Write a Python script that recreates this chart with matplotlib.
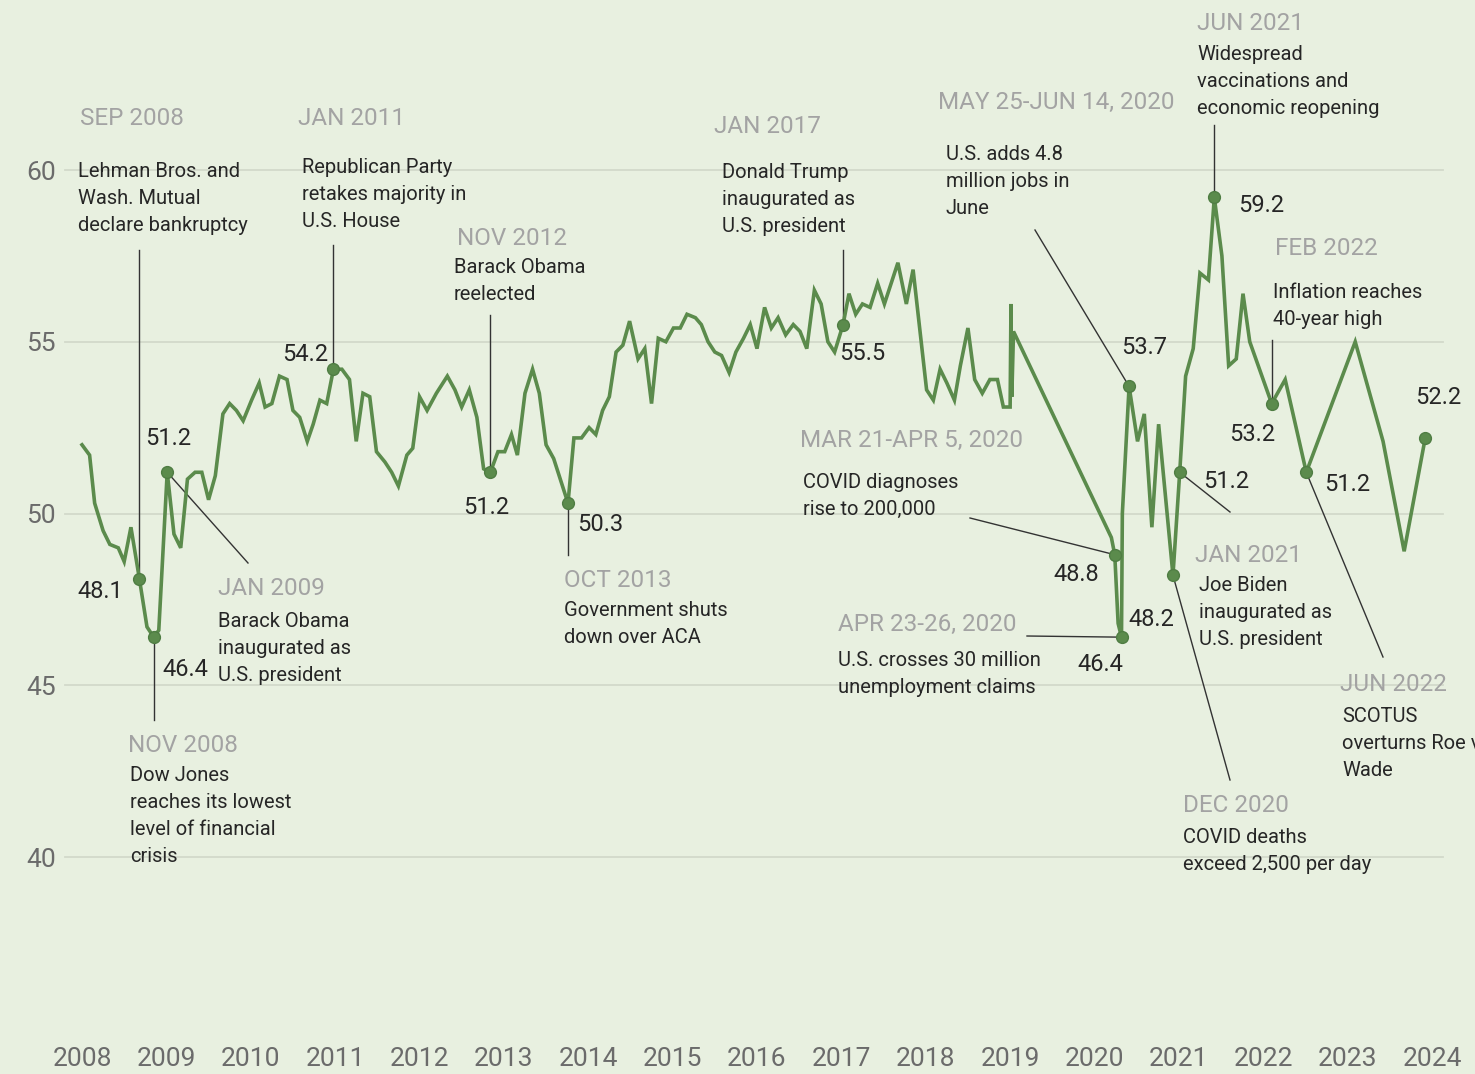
import matplotlib
matplotlib.use("Agg")
import matplotlib.pyplot as plt

W, H = 1475, 1074

# index values (decimal year, value)
DATES = [
    2008.00, 2008.09, 2008.15, 2008.25, 2008.33, 2008.43, 2008.50, 2008.58, 2008.68, 2008.77,
    2008.85, 2008.91, 2009.01, 2009.09, 2009.17, 2009.25, 2009.34, 2009.42, 2009.50, 2009.58,
    2009.67, 2009.75, 2009.83, 2009.91, 2010.01, 2010.10, 2010.17, 2010.25, 2010.34, 2010.43,
    2010.50, 2010.58, 2010.67, 2010.74, 2010.82, 2010.90, 2010.98, 2011.08, 2011.17, 2011.25,
    2011.33, 2011.41, 2011.49, 2011.59, 2011.67, 2011.75, 2011.85, 2011.92, 2012.00, 2012.09,
    2012.20, 2012.33, 2012.42, 2012.50, 2012.59, 2012.68, 2012.76, 2012.84, 2012.93, 2013.01,
    2013.09, 2013.16, 2013.25, 2013.34, 2013.42, 2013.50, 2013.59, 2013.76, 2013.83, 2013.92,
    2014.01, 2014.09, 2014.17, 2014.25, 2014.33, 2014.41, 2014.49, 2014.59, 2014.67, 2014.75,
    2014.83, 2014.92, 2015.01, 2015.09, 2015.17, 2015.27, 2015.34, 2015.42, 2015.50, 2015.58,
    2015.67, 2015.75, 2015.84, 2015.92, 2016.00, 2016.09, 2016.17, 2016.25, 2016.34, 2016.43,
    2016.51, 2016.59, 2016.68, 2016.76, 2016.84, 2016.92, 2017.02, 2017.09, 2017.17, 2017.25,
    2017.34, 2017.43, 2017.51, 2017.67, 2017.77, 2017.85, 2018.01, 2018.09, 2018.17, 2018.25,
    2018.34, 2018.41, 2018.50, 2018.58, 2018.67, 2018.76, 2018.85, 2018.92, 2019.00, 2019.01,
    2019.02, 2019.04, 2020.20, 2020.24, 2020.28, 2020.32, 2020.33, 2020.41, 2020.51, 2020.59,
    2020.68, 2020.76, 2020.93, 2021.01, 2021.08, 2021.17, 2021.25, 2021.35, 2021.42, 2021.51,
    2021.59, 2021.68, 2021.76, 2021.84, 2022.10, 2022.26, 2022.51, 2023.09, 2023.42, 2023.67,
    2023.92,
]
VALUES = [
    52.0, 51.7, 50.3, 49.5, 49.1, 49.0, 48.6, 49.6, 48.1, 46.7,
    46.4, 46.6, 51.2, 49.4, 49.0, 51.0, 51.2, 51.2, 50.4, 51.1,
    52.9, 53.2, 53.0, 52.7, 53.3, 53.8, 53.1, 53.2, 54.0, 53.9,
    53.0, 52.8, 52.1, 52.6, 53.3, 53.2, 54.2, 54.2, 53.9, 52.1,
    53.5, 53.4, 51.8, 51.5, 51.2, 50.8, 51.7, 51.9, 53.4, 53.0,
    53.5, 54.0, 53.6, 53.1, 53.6, 52.8, 51.3, 51.2, 51.8, 51.8,
    52.3, 51.7, 53.5, 54.2, 53.5, 52.0, 51.6, 50.3, 52.2, 52.2,
    52.5, 52.3, 53.0, 53.4, 54.7, 54.9, 55.6, 54.5, 54.8, 53.2,
    55.1, 55.0, 55.4, 55.4, 55.8, 55.7, 55.5, 55.0, 54.7, 54.6,
    54.1, 54.7, 55.1, 55.5, 54.8, 56.0, 55.4, 55.7, 55.2, 55.5,
    55.3, 54.8, 56.5, 56.1, 55.0, 54.7, 55.5, 56.4, 55.8, 56.1,
    56.0, 56.7, 56.1, 57.3, 56.1, 57.1, 53.6, 53.3, 54.2, 53.8,
    53.3, 54.3, 55.4, 53.9, 53.5, 53.9, 53.9, 53.1, 53.1, 56.1,
    53.4, 55.3, 49.3, 48.8, 46.8, 46.4, 50.0, 53.7, 52.1, 52.9,
    49.6, 52.6, 48.2, 51.2, 54.0, 54.8, 57.0, 56.8, 59.2, 57.5,
    54.3, 54.5, 56.4, 55.0, 53.2, 53.9, 51.2, 55.0, 52.1, 48.9,
    52.2,
]

MARKED = [2008.68, 2008.85, 2009.01, 2010.98, 2012.84, 2013.76, 2017.02, 2020.24,
          2020.32, 2020.41, 2020.93, 2021.01, 2021.42, 2022.10, 2022.51, 2023.92]

YEARS = list(range(2008, 2025))
YTICKS = [40, 45, 50, 55, 60]

# events: title, body lines, anchor date
EVENTS = [
    ("SEP 2008", ["Lehman Bros. and", "Wash. Mutual", "declare bankruptcy"], 2008.68),
    ("NOV 2008", ["Dow Jones", "reaches its lowest", "level of financial", "crisis"], 2008.85),
    ("JAN 2009", ["Barack Obama", "inaugurated as", "U.S. president"], 2009.01),
    ("JAN 2011", ["Republican Party", "retakes majority in", "U.S. House"], 2010.98),
    ("NOV 2012", ["Barack Obama", "reelected"], 2012.84),
    ("OCT 2013", ["Government shuts", "down over ACA"], 2013.76),
    ("JAN 2017", ["Donald Trump", "inaugurated as", "U.S. president"], 2017.02),
    ("MAY 25-JUN 14, 2020", ["U.S. adds 4.8", "million jobs in", "June"], 2020.41),
    ("MAR 21-APR 5, 2020", ["COVID diagnoses", "rise to 200,000"], 2020.24),
    ("APR 23-26, 2020", ["U.S. crosses 30 million", "unemployment claims"], 2020.32),
    ("DEC 2020", ["COVID deaths", "exceed 2,500 per day"], 2020.93),
    ("JAN 2021", ["Joe Biden", "inaugurated as", "U.S. president"], 2021.01),
    ("JUN 2021", ["Widespread", "vaccinations and", "economic reopening"], 2021.42),
    ("FEB 2022", ["Inflation reaches", "40-year high"], 2022.10),
    ("JUN 2022", ["SCOTUS", "overturns Roe v.", "Wade"], 2022.51),
]

# layout in pixels: title (x, y), body (x, y first line), leader end (x or None, y)
EVENT_POS = [
    ((80, 116), (78, 170), (None, 250)),
    ((128, 743), (130, 774), (None, 720)),
    ((218, 586), (218, 620), (248, 563)),
    ((298, 116), (302, 166), (None, 245)),
    ((457, 236), (454, 266), (None, 315)),
    ((564, 578), (564, 609), (None, 555)),
    ((714, 124), (722, 171), (None, 250)),
    ((938, 100), (946, 153), (1035, 230)),
    ((800, 438), (803, 481), (970, 518)),
    ((838, 622), (838, 659), (1027, 636)),
    ((1183, 803), (1183, 836), (1230, 780)),
    ((1195, 553), (1199, 584), (1230, 512)),
    ((1197, 21), (1197, 53), (None, 125)),
    ((1275, 246), (1273, 291), (None, 340)),
    ((1340, 682), (1342, 715), (1383, 657)),
]
# value label (left x, centre y) per marked point
LABEL_POS = [(77, 589), (162, 667), (145, 436), (282, 352), (463, 505), (577, 522),
             (839, 351), (1053, 572), (1077, 662), (1121, 345), (1128, 617),
             (1203, 479), (1238, 203), (1229, 432), (1324, 482), (1415, 395)]

BG = "#e8f0e0"
GREEN = "#5b8b4c"
GRID = "#d2d9ca"
TITLE_C = "#a3a3a3"
BODY_C = "#262626"
TICK_C = "#6b6b6b"
FONT = "Roboto"


def px2x(px):
    return 2008 + (px - 82) / 84.375


def py2y(py):
    return 60 - (py - 170) / 34.35


def text_px(ax, x, y, s, size, color):
    # y given as visual centre of capitals; convert to baseline
    base = y + 0.36 * size / 0.72
    ax.text(px2x(x), py2y(base), s, fontsize=size, color=color, family=FONT,
            ha="left", va="baseline")


fig = plt.figure(figsize=(W / 100, H / 100), dpi=100, facecolor=BG)
ax = fig.add_axes([0, 0, 1, 1])
ax.set_facecolor(BG)
ax.set_xlim(px2x(0), px2x(W))
ax.set_ylim(py2y(H), py2y(0))
ax.axis("off")

for v in YTICKS:
    ax.plot([px2x(65), px2x(1443)], [v, v], color=GRID, lw=1.3, zorder=1)
    ax.text(px2x(56), v, str(v), fontsize=19, color=TICK_C, family=FONT,
            ha="right", va="center_baseline")

for yr in YEARS:
    ax.text(yr, py2y(1056), str(yr), fontsize=19, color=TICK_C, family=FONT,
            ha="center", va="center_baseline")

ax.plot(DATES, VALUES, color=GREEN, lw=2.6, solid_joinstyle="miter", zorder=3)

val_at = dict(zip(DATES, VALUES))
for (title, body, d), (tpos, bpos, lend) in zip(EVENTS, EVENT_POS):
    v = val_at[d]
    ex = d if lend[0] is None else px2x(lend[0])
    ax.plot([d, ex], [v, py2y(lend[1])], color="#333333", lw=1.0, zorder=2)
    text_px(ax, tpos[0], tpos[1], title, 17.5, TITLE_C)
    for i, line in enumerate(body):
        text_px(ax, bpos[0], bpos[1] + 27 * i, line, 14.5, BODY_C)

for d, (lx, ly) in zip(MARKED, LABEL_POS):
    v = val_at[d]
    ax.plot([d], [v], "o", color=GREEN, ms=8.5, mec="#4f7d43", zorder=4)
    text_px(ax, lx, ly, f"{v:.1f}", 17, BODY_C)

fig.savefig("out.png", dpi=100, facecolor=BG)
